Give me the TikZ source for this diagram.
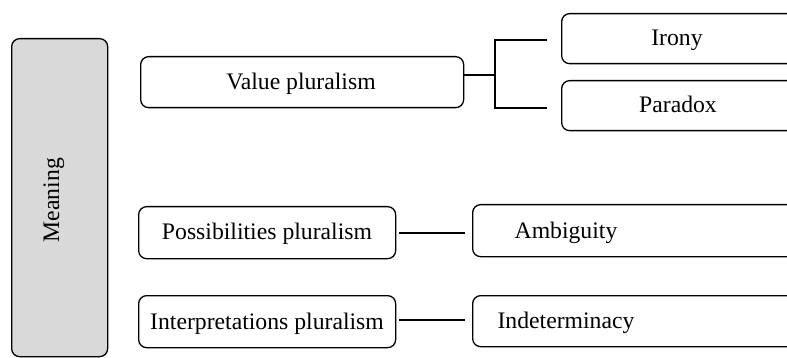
\documentclass[tikz,border=0pt]{standalone}
\usepackage{fontspec}
\setmainfont{Liberation Serif}
\begin{document}
\begin{tikzpicture}[x=1pt,y=-1pt,
  box/.style={draw=black,line width=1.3pt,rounded corners=8pt,inner sep=0pt},
  txt/.style={inner sep=0pt,anchor=base,font=\fontsize{23.7}{28}\selectfont},
  conn/.style={draw=black,line width=1.4pt}]
\useasboundingbox (0,0) rectangle (787,358);
\clip (0,0) rectangle (787,358);
\definecolor{meanfill}{HTML}{D9D9D9}
% Meaning
\node[box,fill=meanfill,minimum width=96pt,minimum height=318pt,anchor=north west] (mean) at (11,38) {};
\node[txt,rotate=90] (meant) at (59,200) {Meaning};
% left boxes
\node[box,minimum width=323pt,minimum height=51pt,anchor=north west] (val) at (140,56) {};
\node[txt] (valt) at (301,90) {Value pluralism};
\node[box,minimum width=257pt,minimum height=52pt,anchor=north west] (pos) at (138,206) {};
\node[txt] (post) at (267,240) {Possibilities pluralism};
\node[box,minimum width=257pt,minimum height=52pt,anchor=north west] (int) at (138,295) {};
\node[txt] (intt) at (267,329) {Interpretations pluralism};
% right boxes
\node[box,minimum width=260pt,minimum height=50pt,anchor=north west] (iro) at (561,13) {};
\node[txt] (irot) at (677,46) {Irony};
\node[box,minimum width=260pt,minimum height=50pt,anchor=north west] (par) at (561,80) {};
\node[txt] (part) at (678,113) {Paradox};
\node[box,minimum width=340pt,minimum height=52pt,anchor=north west] (amb) at (472,204) {};
\node[txt] (ambt) at (566,238) {Ambiguity};
\node[box,minimum width=340pt,minimum height=51pt,anchor=north west] (ind) at (472,295) {};
\node[txt] (indt) at (566,328) {Indeterminacy};
% connectors
\coordinate (br) at (495,75);
\coordinate (brt) at (495,40);
\coordinate (brb) at (495,108);
\coordinate (irol) at (547,40);
\coordinate (parl) at (547,108);
\draw[conn] (val.east |- br) -- (br);
\draw[conn] (irol) -- (brt) -- (brb) -- (parl);
\draw[conn] ([xshift=3pt]pos.east |- 0,233) -- ([xshift=-7pt]amb.west |- 0,233);
\draw[conn] ([xshift=3pt]int.east |- 0,320) -- ([xshift=-7pt]ind.west |- 0,320);
\end{tikzpicture}
\end{document}
